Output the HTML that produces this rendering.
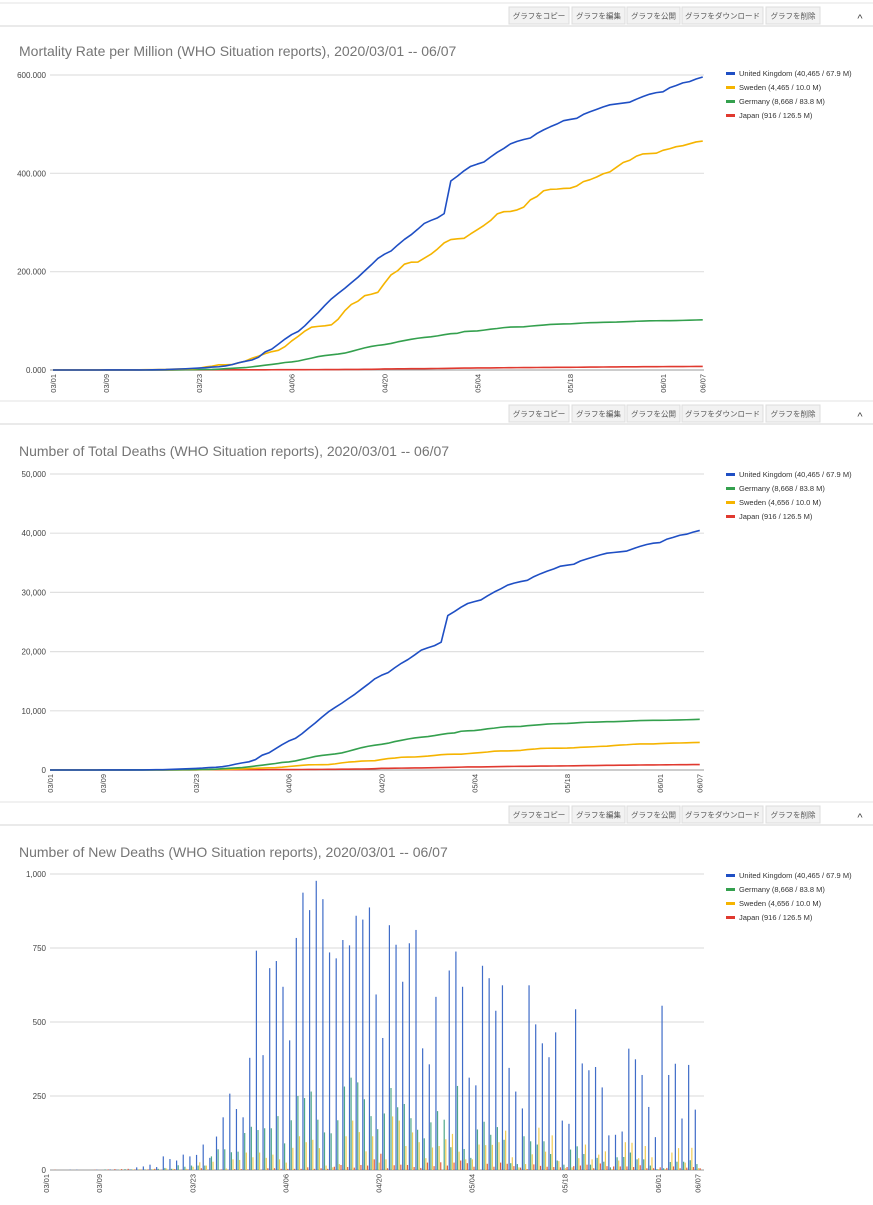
<!DOCTYPE html>
<html><head><meta charset="utf-8"><style>
body{margin:0;background:#fff;width:873px;height:1200px;overflow:hidden}
svg text{font-family:"Liberation Sans","Noto Sans CJK JP",sans-serif}
</style></head><body>
<svg id="root" width="873" height="1200" viewBox="0 0 873 1200" xmlns="http://www.w3.org/2000/svg"></svg>
<script>
const NS='http://www.w3.org/2000/svg';
const root=document.getElementById('root');
// ---- data ----
const tickDays=[0,8,22,36,50,64,78,92,98];
const tickLabels=['03/01','03/09','03/23','04/06','04/20','05/04','05/18','06/01','06/07'];
const ukTotal=[0,0,0,0,1,2,2,2,3,3,5,6,6,8,17,29,47,57,103,140,172,224,270,321,407,448,561,739,997,1203,1381,1760,2501,2889,3571,4277,4896,5334,6118,7055,7933,8910,9825,10560,11275,12052,12811,13670,14516,15403,15996,16442,17269,18030,18666,19432,20243,20654,21011,21596,26096,26770,27508,28127,28439,28725,29415,30063,30601,31225,31570,31835,32043,32667,33159,33587,33968,34433,34600,34756,35299,35659,35996,36344,36623,36740,36859,36989,37399,37773,38094,38307,38418,38973,39294,39653,39827,40182,40465];
const deTotal=[0,0,0,0,0,0,0,0,0,2,2,3,6,8,9,11,13,17,24,28,44,55,70,85,100,146,216,286,346,408,533,679,814,955,1096,1278,1368,1536,1786,2029,2294,2464,2591,2715,2883,3165,3477,3773,4012,4194,4332,4523,4800,5012,5235,5410,5546,5653,5814,6013,6183,6260,6544,6615,6656,6793,6956,7075,7220,7322,7345,7365,7479,7576,7662,7759,7813,7845,7863,7932,8012,8066,8084,8125,8153,8162,8205,8249,8308,8344,8380,8395,8398,8404,8431,8459,8487,8520,8560];
const seTotal=[0,0,0,0,0,0,0,0,0,0,0,1,1,3,6,7,10,11,16,20,21,25,36,62,77,105,105,110,146,180,239,282,333,373,401,477,591,687,793,870,887,899,919,1033,1203,1333,1400,1511,1540,1580,1765,1937,2021,2152,2192,2194,2274,2355,2462,2586,2653,2669,2679,2769,2854,2941,3040,3175,3220,3225,3256,3313,3460,3529,3646,3674,3679,3692,3698,3743,3831,3871,3925,3992,4029,4125,4220,4266,4350,4395,4403,4410,4468,4500,4542,4562,4600,4639,4656];
const jpTotal=[5,6,6,6,6,6,6,7,7,9,12,15,19,21,22,24,28,29,29,32,33,35,35,41,42,43,45,46,49,52,54,56,57,63,69,73,77,81,85,94,98,104,108,119,136,146,154,171,186,222,277,283,299,317,334,344,351,376,389,415,430,455,487,510,521,522,543,554,579,600,613,621,624,643,657,668,678,687,697,710,725,743,749,771,784,796,808,820,830,846,852,858,867,874,886,892,900,910,916];
const populations=[67.9,10.0,83.8,126.5]; // UK, Sweden, Germany, Japan
const ukNew=[0,0,0,0,1,1,0,0,1,0,2,1,0,2,9,12,18,10,46,37,32,52,46,51,86,41,113,178,258,206,178,379,741,388,682,706,619,438,784,937,878,977,915,735,715,777,759,859,846,887,593,446,827,761,636,766,811,411,357,585,0,674,738,619,312,286,690,648,538,624,345,265,208,624,492,428,381,465,167,156,543,360,337,348,279,117,119,130,410,374,321,213,111,555,321,359,174,355,204];
const deNew=[0,0,0,0,0,0,0,0,0,2,0,1,3,2,1,2,2,4,7,4,16,11,15,15,15,46,70,70,60,62,125,146,135,141,141,182,90,168,250,243,265,170,127,124,168,282,312,296,239,182,138,191,277,212,223,175,136,107,161,199,170,77,284,71,41,137,163,119,145,102,23,20,114,97,86,97,54,32,18,69,80,54,18,41,28,9,43,44,59,36,36,15,3,6,27,28,28,33,20];
const seNew=[0,0,0,0,0,0,0,0,0,0,0,1,0,2,3,1,3,1,5,4,1,4,11,26,15,28,0,5,36,34,59,43,59,41,52,36,25,75,114,94,102,74,15,9,20,114,167,128,63,114,25,36,181,167,81,127,94,40,76,81,104,122,62,36,36,86,84,85,94,133,43,9,20,53,143,62,117,30,6,9,40,86,36,52,63,3,32,94,92,40,81,43,3,3,59,74,25,75,6];
const jpNew=[0,1,0,0,0,0,0,1,0,2,3,3,4,2,1,2,4,1,0,3,1,2,0,6,1,1,2,1,3,3,2,2,1,6,6,4,4,4,4,9,4,6,4,11,17,10,8,17,15,36,55,6,16,18,17,10,7,25,13,26,15,25,32,23,11,1,21,11,25,21,13,8,3,19,14,11,10,9,10,13,15,18,6,22,13,12,12,12,10,16,6,6,9,7,12,6,8,10,6];
const C={uk:'#1f4fc4',se:'#f5b400',de:'#34a04e',jp:'#e0392f'};

function el(tag,attrs,parent){const e=document.createElementNS(NS,tag);for(const k in attrs)e.setAttribute(k,attrs[k]);(parent||root).appendChild(e);return e;}
function txt(s,attrs,parent){const t=el('text',attrs,parent);t.textContent=s;return t;}

function toolbar(y,name){
  const g=el('g',{});
  
  
  el('line',{x1:0,x2:873,y1:y-4,y2:y-4,stroke:'#e3e3e3','stroke-width':1},g);
  el('line',{x1:0,x2:873,y1:y+19,y2:y+19,stroke:'#e3e3e3','stroke-width':1.5},g);
  const btns=[['グラフをコピー',509,60,'copy-chart-button'],['グラフを編集',572,53,'edit-chart-button'],['グラフを公開',627,53,'publish-chart-button'],['グラフをダウンロード',682,81,'download-chart-button'],['グラフを削除',766,54,'delete-chart-button']];
  btns.forEach(b=>{
    const bg=el('g',{},g);
    
    
    el('rect',{x:b[1],y:y,width:b[2],height:17,fill:'#f2f2f2',stroke:'#dcdcdc'},bg);
    txt(b[0],{x:b[1]+b[2]/2,y:y+11.5,'font-size':7.5,fill:'#555','text-anchor':'middle'},bg);
  });
  const c=txt('^',{x:860,y:y+15,'font-size':11,fill:'#444','text-anchor':'middle'},g);
  
  
}

function frame(cfg){
  const g=el('g',{});
  
  
  const t=txt(cfg.title,{x:19,y:cfg.titleY,'font-size':14,fill:'#757575'},g);
  
  
  const ys=v=>cfg.y0-(v/cfg.ymax)*(cfg.y0-cfg.yTop);
  cfg.ticks.forEach((v,i)=>{
    const ln=el('line',{x1:50,x2:704,y1:ys(v),y2:ys(v),stroke:i===0?'#999':'#e0e0e0','stroke-width':i===0?1:1.2},g);
    
    
    const lb=txt(cfg.tickText[i],{x:46,y:ys(v)+3,'font-size':8,fill:'#444','text-anchor':'end'},g);
    
    
  });
  const xs=d=>cfg.x0+d*cfg.step;
  tickDays.forEach((d,i)=>{
    const x=xs(d);
    const lb=txt(tickLabels[i],{x:0,y:0,'font-size':7.5,fill:'#444','text-anchor':'end',transform:`translate(${x+3},${cfg.y0+4}) rotate(-90)`},g);
    
    
  });
  cfg.legend.forEach((L,i)=>{
    const lg=el('g',{},g);
    
    
    const y=cfg.legendY+i*14;
    el('rect',{x:726,y:y-3,width:9,height:3,fill:L[1]},lg);
    txt(L[0],{x:739,y:y+1,'font-size':7.5,fill:'#333'},lg);
  });
  return {g,xs,ys};
}

function line(f,arr,color,name){
  let d='';
  arr.forEach((v,i)=>{d+=(i?'L':'M')+f.xs(i).toFixed(2)+','+f.ys(v).toFixed(2);});
  const p=el('path',{d,fill:'none',stroke:color,'stroke-width':1.6,'stroke-linejoin':'round'},f.g);
  
  
}

// ---- chart 1 ----
toolbar(7,'chart1');
const f1=frame({name:'mortality-rate-chart',title:'Mortality Rate per Million (WHO Situation reports), 2020/03/01 -- 06/07',titleY:56,
  y0:370,yTop:75,ymax:600,ticks:[0,200,400,600],tickText:['0.000','200.000','400.000','600.000'],x0:53,step:6.63,legendY:75,
  legend:[['United Kingdom (40,465 / 67.9 M)',C.uk],['Sweden (4,465 / 10.0 M)',C.se],['Germany (8,668 / 83.8 M)',C.de],['Japan (916 / 126.5 M)',C.jp]]});
line(f1,jpTotal.map(v=>v/populations[3]),C.jp,'japan-rate-line');
line(f1,deTotal.map(v=>v/populations[2]),C.de,'germany-rate-line');
line(f1,seTotal.map(v=>v/populations[1]),C.se,'sweden-rate-line');
line(f1,ukTotal.map(v=>v/populations[0]),C.uk,'uk-rate-line');

// ---- chart 2 ----
toolbar(405,'chart2');
const f2=frame({name:'total-deaths-chart',title:'Number of Total Deaths (WHO Situation reports), 2020/03/01 -- 06/07',titleY:456,
  y0:770,yTop:474,ymax:50000,ticks:[0,10000,20000,30000,40000,50000],tickText:['0','10,000','20,000','30,000','40,000','50,000'],x0:50,step:6.63,legendY:476,
  legend:[['United Kingdom (40,465 / 67.9 M)',C.uk],['Germany (8,668 / 83.8 M)',C.de],['Sweden (4,656 / 10.0 M)',C.se],['Japan (916 / 126.5 M)',C.jp]]});
line(f2,jpTotal,C.jp,'japan-total-line');
line(f2,seTotal,C.se,'sweden-total-line');
line(f2,deTotal,C.de,'germany-total-line');
line(f2,ukTotal,C.uk,'uk-total-line');

// ---- chart 3 ----
toolbar(806,'chart3');
const f3=frame({name:'new-deaths-chart',title:'Number of New Deaths (WHO Situation reports), 2020/03/01 -- 06/07',titleY:857,
  y0:1170,yTop:874,ymax:1000,ticks:[0,250,500,750,1000],tickText:['0','250','500','750','1,000'],x0:46,step:6.65,legendY:877,
  legend:[['United Kingdom (40,465 / 67.9 M)',C.uk],['Germany (8,668 / 83.8 M)',C.de],['Sweden (4,656 / 10.0 M)',C.se],['Japan (916 / 126.5 M)',C.jp]]});
const series=[[ukNew,'#3f6cc8',-2.4,'bar-uk'],[deNew,'#4fa88a',-0.8,'bar-germany'],[seNew,'#f0cc55',0.8,'bar-sweden'],[jpNew,'#e06040',2.4,'bar-japan']];
series.forEach(s=>{
  s[0].forEach((v,i)=>{
    if(v<=0) return;
    const x=f3.xs(i)+s[2]-0.6, y=f3.ys(v);
    const r=el('rect',{x:x.toFixed(2),y:y.toFixed(2),width:1.2,height:(1170-y).toFixed(2),fill:s[1]},f3.g);
    
    
  });
});
</script>
</body></html>
